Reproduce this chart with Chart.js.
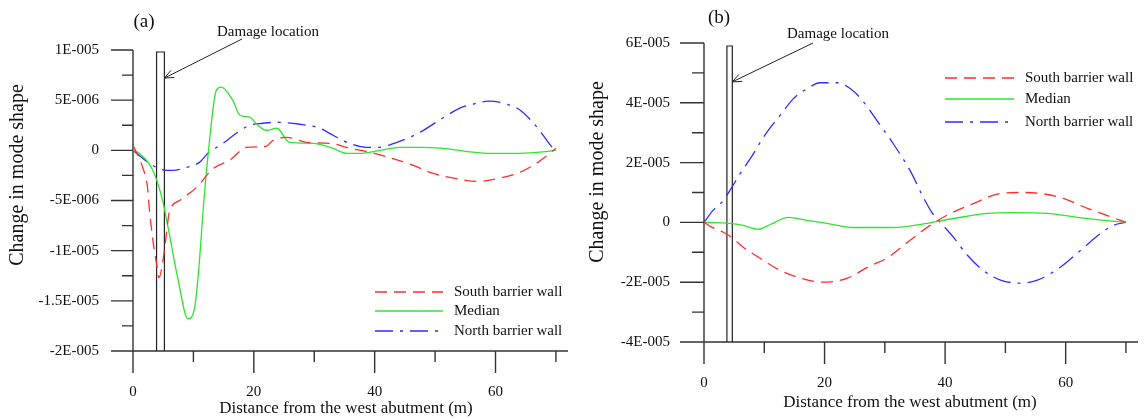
<!DOCTYPE html>
<html>
<head>
<meta charset="utf-8">
<script src="https://cdn.jsdelivr.net/npm/chart.js@4.4.1/dist/chart.umd.min.js"></script>
<style>
  html, body { margin: 0; padding: 0; background: #fff; }
  #wrap { position: relative; width: 1144px; height: 419px; }
  canvas { position: absolute; top: 0; }
  #chart-a { left: 0; }
  #chart-b { left: 572px; }
</style>
</head>
<body>
<div id="wrap">
  <canvas id="chart-a" width="572" height="419"></canvas>
  <canvas id="chart-b" width="572" height="419"></canvas>
</div>
<script>
// Two panels: change in mode shape along the bridge, (a) in 1E-006 units, (b) in 1E-005 units.

// ─── Data ────────────────────────────────────────────────────────────────

const legendNames = ['South barrier wall', 'Median', 'North barrier wall'];
const xTitle = 'Distance from the west abutment (m)';
const yTitle = 'Change in mode shape';
const noteText = 'Damage location';

const xTickVals = [0, 10, 20, 30, 40, 50, 60, 70];
const xTickText = ['0', '', '20', '', '40', '', '60', ''];

// panel (a), y in units of 1E-006
const yTickValsA = [-20, -17.5, -15, -12.5, -10, -7.5, -5, -2.5, 0, 2.5, 5, 7.5, 10];
const yTickTextA = ['-2E-005', '', '-1.5E-005', '', '-1E-005', '', '-5E-006', '', '0', '', '5E-006', '', '1E-005'];

const southAx = [0, 1.6, 2.4, 2.7, 3.3, 3.9, 4.3, 4.9, 5.5, 6, 7.7, 10.5, 13.3, 16, 18.8, 22, 23.2, 25.4, 28.7, 32.6, 36, 39.2, 42.9, 46.4, 49.7, 53.3, 57, 60.5, 64, 67, 70];
const southAy = [0.5, -1.7, -3.7, -5.8, -9, -11.3, -12.7, -11.2, -8.5, -6.2, -5, -3.7, -1.8, -1.0, 0.3, 0.4, 1.0, 1.3, 0.8, 0.7, 0.2, -0.2, -0.8, -1.5, -2.3, -2.8, -3.1, -2.8, -2.2, -1.2, 0.2];

const medianAx = [0, 1, 3.3, 4.9, 6, 7.4, 9.1, 10.2, 11, 11.6, 12.5, 13.8, 14.6, 16.5, 17.7, 19.3, 20.5, 22.1, 23.8, 25.9, 29.8, 33.1, 35.4, 37.6, 40.9, 44.2, 47.8, 51.3, 55, 58.6, 63, 66.9, 70];
const medianAy = [0, -0.3, -2, -5, -8.3, -12.7, -16.8, -15.7, -11, -6, 0, 6, 6.3, 5, 3.5, 3.3, 2.6, 2, 2.2, 0.8, 0.7, 0.2, -0.3, -0.3, 0, 0.3, 0.3, 0.2, -0.1, -0.3, -0.3, -0.2, 0];

const northAx = [0, 1, 2.7, 4.7, 6.6, 8.8, 11, 12.4, 14.9, 17.1, 19.3, 21.5, 23.8, 27.6, 30.9, 33.1, 35.4, 38.7, 40.5, 43.7, 47.5, 51.2, 54.1, 56.3, 58.8, 61.9, 64.1, 66.3, 67.9, 69.4, 70];
const northAy = [0, -0.5, -1.3, -1.9, -2, -1.7, -1.2, -0.3, 0.7, 1.7, 2.5, 2.7, 2.8, 2.6, 2.2, 1.5, 0.8, 0.3, 0.3, 0.8, 1.8, 3.2, 4.2, 4.6, 4.9, 4.6, 4.0, 2.7, 1.5, 0.3, 0];

const damageAx = [3.9, 5.2];     // damaged strip edges (m)
const damageAtop = 9.8;
const arrowAy = 7.2;

// panel (b), y in units of 1E-005
const yTickValsB = [-4, -3, -2, -1, 0, 1, 2, 3, 4, 5, 6];
const yTickTextB = ['-4E-005', '', '-2E-005', '', '0', '', '2E-005', '', '4E-005', '', '6E-005'];

const southBx = [0, 1.3, 3.2, 4.6, 6.5, 9.3, 12.6, 16, 19.8, 23.7, 27.6, 30.3, 34.2, 37.5, 40.9, 44.7, 49.2, 52.5, 55.8, 59.6, 63.6, 66.9, 70];
const southBy = [0, -0.16, -0.33, -0.5, -0.83, -1.2, -1.6, -1.86, -2.0, -1.87, -1.45, -1.2, -0.6, -0.1, 0.3, 0.63, 0.97, 1.0, 0.97, 0.8, 0.47, 0.23, 0];

const medianBx = [0, 4.3, 6.5, 9, 11, 14, 17.1, 20.4, 24.8, 28.7, 31.4, 37, 41.4, 47, 51.3, 57, 61.9, 66.3, 70];
const medianBy = [0, -0.03, -0.1, -0.23, -0.07, 0.17, 0.07, -0.03, -0.17, -0.17, -0.17, -0.03, 0.13, 0.3, 0.33, 0.3, 0.17, 0.07, 0];

const northBx = [0, 1.5, 3.2, 4.3, 6, 8, 9.8, 11, 12.6, 14.8, 17.1, 19.3, 22.1, 24.3, 26.2, 28.7, 31.4, 34.2, 36.4, 37.9, 39.2, 41.4, 43.7, 46.3, 49.2, 52.5, 55.3, 59.1, 62.5, 65.8, 67.9, 70];
const northBy = [0, 0.4, 0.73, 1.07, 1.63, 2.23, 2.83, 3.17, 3.57, 4.13, 4.47, 4.67, 4.67, 4.47, 4.1, 3.4, 2.63, 1.73, 0.83, 0.3, 0, -0.5, -1.1, -1.6, -1.93, -2.03, -1.93, -1.5, -0.93, -0.37, -0.1, 0];

const damageBx = [3.8, 4.7];
const damageBtop = 5.9;
const arrowBy = 4.7;

// ─── Styles ──────────────────────────────────────────────────────────────

const SERIF = '"Liberation Serif", "Times New Roman", serif';
const lineStyles = [
  { color: 'rgb(255,45,45)', dash: [12, 7] },
  { color: 'rgb(45,230,45)', dash: [] },
  { color: 'rgb(45,45,255)', dash: [18, 7, 3, 7] },
];

const pts = (xs, ys) => xs.map((x, i) => ({ x, y: ys[i] }));

// axes, ticks, titles, note arrow and legend
const decor = {
  id: 'decor',
  beforeDatasetsDraw(chart, args, o) {
    const { ctx, chartArea: a, scales: { x, y } } = chart;
    ctx.save();
    ctx.strokeStyle = '#333';
    ctx.lineWidth = 1.4;
    ctx.beginPath();
    ctx.moveTo(a.left, a.top);
    ctx.lineTo(a.left, a.bottom);
    ctx.lineTo(a.right, a.bottom);
    y.ticks.forEach(t => {
      const py = y.getPixelForValue(t.value);
      ctx.moveTo(a.left - (t.label ? o.yTick : o.yTick / 2), py);
      ctx.lineTo(a.left, py);
    });
    x.ticks.forEach(t => {
      const px = x.getPixelForValue(t.value);
      ctx.moveTo(px, a.bottom);
      ctx.lineTo(px, a.bottom + (t.label ? 22 : 11));
    });
    ctx.stroke();
    ctx.restore();
  },
  afterDraw(chart, args, o) {
    const { ctx, scales: { x, y } } = chart;
    ctx.save();
    ctx.fillStyle = '#111';
    ctx.textBaseline = 'middle';

    ctx.font = `17px ${SERIF}`;
    ctx.textAlign = 'center';
    ctx.fillText(xTitle, o.xTitleAt[0], o.xTitleAt[1]);

    ctx.save();
    ctx.translate(o.yTitleAt[0], o.yTitleAt[1]);
    ctx.rotate(-Math.PI / 2);
    ctx.font = `20px ${SERIF}`;
    ctx.fillText(yTitle, 0, 0);
    ctx.restore();

    ctx.font = `19px ${SERIF}`;
    ctx.fillText(o.tag, o.tagAt[0], o.tagAt[1]);

    // damage note + arrow
    ctx.font = `15px ${SERIF}`;
    ctx.textAlign = 'left';
    ctx.fillText(noteText, o.noteAt[0], o.noteAt[1]);
    const tip = { x: x.getPixelForValue(o.damageX[1]), y: y.getPixelForValue(o.arrowY) };
    const [tx, ty] = o.tailAt;
    const ang = Math.atan2(tip.y - ty, tip.x - tx);
    ctx.strokeStyle = '#222';
    ctx.lineWidth = 1;
    ctx.beginPath();
    ctx.moveTo(tx, ty);
    ctx.lineTo(tip.x, tip.y);
    [0.4, -0.4].forEach(d => {
      ctx.moveTo(tip.x, tip.y);
      ctx.lineTo(tip.x - 10 * Math.cos(ang + d), tip.y - 10 * Math.sin(ang + d));
    });
    ctx.stroke();

    // legend
    legendNames.forEach((name, i) => {
      const ly = o.legendRows[i];
      ctx.strokeStyle = lineStyles[i].color;
      ctx.lineWidth = 1.3;
      ctx.setLineDash(lineStyles[i].dash);
      ctx.beginPath();
      ctx.moveTo(o.legendLine[0], ly);
      ctx.lineTo(o.legendLine[1], ly);
      ctx.stroke();
      ctx.setLineDash([]);
      ctx.fillStyle = '#111';
      ctx.fillText(name, o.legendText, ly);
    });
    ctx.restore();
  },
};

function makeChart(id, cfg) {
  const series = cfg.series.map(([xs, ys], i) => ({
    label: legendNames[i],
    data: pts(xs, ys),
    borderColor: lineStyles[i].color,
    borderDash: lineStyles[i].dash,
    borderWidth: 1.3,
    pointRadius: 0,
    cubicInterpolationMode: 'monotone',
  }));
  const [d0, d1] = cfg.damageX;
  series.push({
    label: 'damage',
    data: [{ x: d0, y: cfg.yMin }, { x: d0, y: cfg.damageTop }, { x: d1, y: cfg.damageTop }, { x: d1, y: cfg.yMin }],
    borderColor: '#222',
    borderWidth: 1.2,
    pointRadius: 0,
    tension: 0,
  });

  return new Chart(document.getElementById(id), {
    type: 'line',
    data: { datasets: series },
    options: {
      responsive: false,
      animation: false,
      devicePixelRatio: 1,
      layout: { padding: { left: 0, top: cfg.top, right: cfg.right, bottom: 0 } },
      scales: {
        x: {
          type: 'linear', min: 0, max: 72,
          grid: { display: false, drawTicks: false },
          border: { display: false },
          afterBuildTicks: s => { s.ticks = xTickVals.map(v => ({ value: v })); },
          // the big tick padding would otherwise be reserved on the right too
          afterFit: s => { s.height = cfg.xAxisH; s.paddingLeft = 0; s.paddingRight = 0; },
          ticks: {
            autoSkip: false, maxRotation: 0, padding: 32,
            color: '#111', font: { family: SERIF, size: 15 },
            callback: (v, i) => xTickText[i],
          },
        },
        y: {
          type: 'linear', min: cfg.yMin, max: cfg.yMax,
          grid: { display: false, drawTicks: false },
          border: { display: false },
          afterBuildTicks: s => { s.ticks = cfg.yTickVals.map(v => ({ value: v })); },
          afterFit: s => { s.width = cfg.yAxisW; },
          ticks: {
            autoSkip: false, padding: 34,
            color: '#111', font: { family: SERIF, size: 15 },
            callback: (v, i) => cfg.yTickText[i],
          },
        },
      },
      plugins: {
        legend: { display: false },
        tooltip: { enabled: false },
        decor: cfg.decor,
      },
    },
    plugins: [decor],
  });
}

makeChart('chart-a', {
  series: [[southAx, southAy], [medianAx, medianAy], [northAx, northAy]],
  yMin: -20, yMax: 10, yTickVals: yTickValsA, yTickText: yTickTextA,
  damageX: damageAx, damageTop: damageAtop,
  top: 50, right: 4, xAxisH: 68, yAxisW: 133,
  decor: {
    yTick: 22, tag: '(a)', tagAt: [144, 22],
    xTitleAt: [346, 409], yTitleAt: [18, 175],
    noteAt: [217, 32], tailAt: [242, 39], damageX: damageAx, arrowY: arrowAy,
    legendLine: [375, 443], legendText: 454, legendRows: [292, 311, 331],
  },
});

makeChart('chart-b', {
  series: [[southBx, southBy], [medianBx, medianBy], [northBx, northBy]],
  yMin: -4, yMax: 6, yTickVals: yTickValsB, yTickText: yTickTextB,
  damageX: damageBx, damageTop: damageBtop,
  top: 41, right: 6, xAxisH: 77, yAxisW: 132,
  decor: {
    yTick: 24, tag: '(b)', tagAt: [147, 18],
    xTitleAt: [338, 403], yTitleAt: [26, 172],
    noteAt: [215, 34], tailAt: [241, 43], damageX: damageBx, arrowY: arrowBy,
    legendLine: [373, 442], legendText: 453, legendRows: [78, 99, 122],
  },
});
</script>
</body>
</html>
